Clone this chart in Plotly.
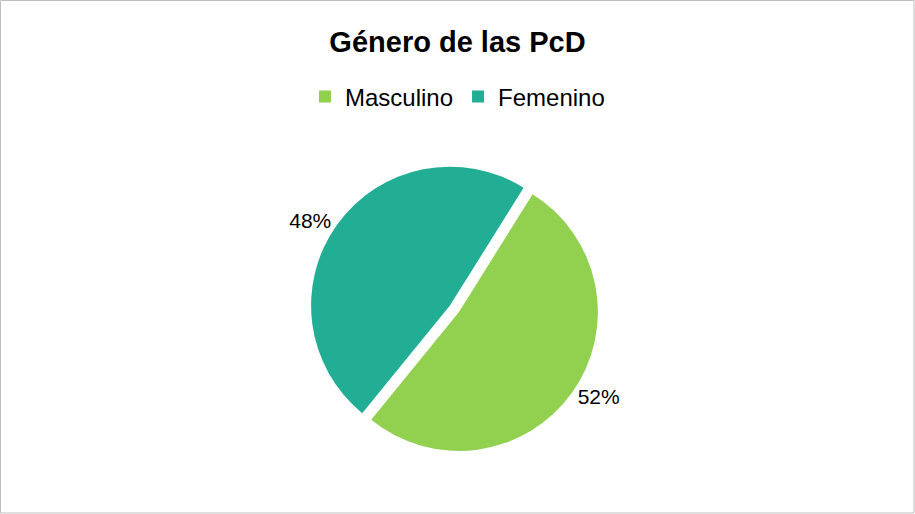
import plotly.graph_objects as go

categories = ["Masculino", "Femenino"]
values = [52, 48]
colors = ["#92D050", "#21AE95"]

cx, cy, half = 459, 312, 150

fig = go.Figure(go.Pie(
    labels=categories,
    values=values,
    sort=False,
    direction="clockwise",
    rotation=32,
    pull=[0, 0.08],
    marker=dict(colors=colors, line=dict(color="white", width=0)),
    textinfo="percent",
    texttemplate="%{percent:.0%}",
    textposition="outside",
    textfont=dict(family="Liberation Sans, Arial", size=21, color="black"),
    domain=dict(x=[(cx-210)/915, (cx+210)/915], y=[1-(cy+half)/514, 1-(cy-half)/514]),
    showlegend=True,
))

fig.update_layout(
    width=915, height=514,
    margin=dict(l=0, r=0, t=0, b=0),
    paper_bgcolor="white",
    title=dict(text="<b>Género de las PcD</b>", x=0.5, xanchor="center", y=1-42/514, yanchor="middle",
               font=dict(family="Liberation Sans, Arial", size=29, color="black")),
    legend=dict(orientation="h", x=0.5, xanchor="center", y=1-97/514, yanchor="middle",
                font=dict(family="Liberation Sans, Arial", size=24, color="black"), itemwidth=30,
                traceorder="normal"),
    shapes=[dict(type="rect", xref="paper", yref="paper", x0=0.5/915, x1=1-1/915, y0=1/514, y1=1-0.5/514,
                 line=dict(color="#BFBFBF", width=1))],
)

fig.write_html("out.html", config={"displayModeBar": False},
               post_script="document.body.style.margin='0';document.body.style.overflow='hidden';")
